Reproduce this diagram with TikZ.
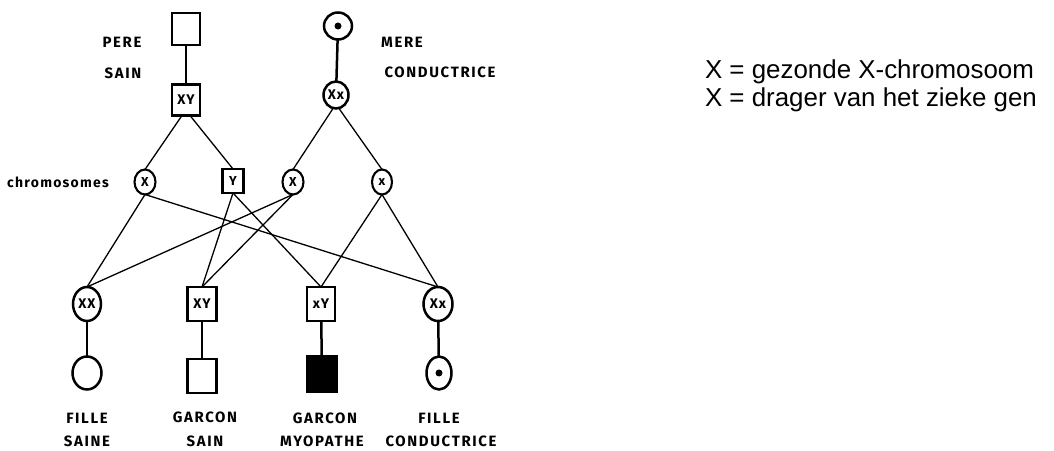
\documentclass[tikz,border=0pt]{standalone}
\usepackage{fontspec}
\usetikzlibrary{shapes.geometric}
\newfontfamily\labf[LetterSpace=11]{Fira Sans}
\newfontfamily\lowf[LetterSpace=9]{Fira Sans}
\newfontfamily\genf[LetterSpace=6]{Fira Sans}
\newfontfamily\legf{Liberation Sans}
\begin{document}
\begin{tikzpicture}[x=1bp,y=-1bp,
  every node/.style={inner sep=0pt, outer sep=0pt},
  box/.style={draw, line width=2.5bp, rectangle, minimum width=28bp, minimum height=32bp,
    font=\genf\bfseries\fontsize{14}{14}\selectfont},
  ring/.style={draw, line width=2.5bp, ellipse, minimum width=28bp, minimum height=34bp,
    font=\genf\bfseries\fontsize{14}{14}\selectfont},
  cbox/.style={draw, line width=2.1bp, rectangle, minimum width=21bp, minimum height=24bp,
    font=\genf\bfseries\fontsize{13}{13}\selectfont},
  cring/.style={draw, line width=2.1bp, ellipse, minimum width=21bp, minimum height=25bp,
    font=\genf\bfseries\fontsize{13}{13}\selectfont},
  lab/.style={font=\labf\bfseries\fontsize{15}{15}\selectfont},
  leg/.style={anchor=base west, font=\legf\fontsize{26}{26}\selectfont},
  stem/.style={line width=2.5bp},
  link/.style={line width=1.3bp}
]
\useasboundingbox (0,0) rectangle (1054,451);

% parents
\node[box] (pere) at (186,29) {};
\node[ring, minimum width=28bp, minimum height=27bp] (mere) at (338,26) {};
\fill (mere.center) circle[radius=3.5bp];
\node[lab] (lpere) at (122,42) {PERE};
\node[lab] (lsain) at (123,73) {SAIN};
\node[lab] (lmere) at (402,42) {MERE};
\node[lab] (lcond) at (440,72) {CONDUCTRICE};

\node[box, minimum height=31bp] (fxy) at (186,100) {XY};
\node[ring, minimum width=25bp, minimum height=27bp] (mxx) at (336,95) {Xx};

% chromosomes
\node[font=\lowf\bfseries\fontsize{14}{14}\selectfont] (lchr) at (58,182) {chromosomes};
\node[cring] (cX1) at (145,182) {X};
\node[cbox]  (cY)  at (233,181) {Y};
\node[cring] (cX2) at (293,182) {X};
\node[cring, minimum width=20bp] (cx)  at (382,182) {x};

% children genotypes
\node[ring] (dXX) at (87,304) {XX};
\node[box, minimum width=29bp, minimum height=34bp] (sXY) at (202,304) {XY};
\node[box, minimum height=34bp] (sxY) at (321,304) {xY};
\node[ring, minimum width=29bp] (dXx) at (438,304) {Xx};

% children symbols
\node[ring, minimum width=29bp, minimum height=33bp] (c1) at (87,373) {};
\node[box, minimum width=29bp, minimum height=34bp] (s1) at (202,376) {};
\node[box, minimum width=29bp, minimum height=36bp, fill=black] (s2) at (322,374) {};
\node[ring, minimum width=25bp, minimum height=33bp] (c2) at (439,373) {};
\fill (c2.center) circle[radius=3.5bp];

% labels
\node[lab] (l1a) at (87,418) {FILLE};
\node[lab] (l1b) at (87,441) {SAINE};
\node[lab] (l2a) at (205,417) {GARCON};
\node[lab] (l2b) at (205,441) {SAIN};
\node[lab] (l3a) at (325,418) {GARCON};
\node[lab] (l3b) at (322,441) {MYOPATHE};
\node[lab] (l4a) at (439,418) {FILLE};
\node[lab] (l4b) at (441,441) {CONDUCTRICE};

% legend
\node[leg] (leg1) at (705,79) {X = gezonde X-chromosoom};
\node[leg] (leg2) at (705,107) {X = drager van het zieke gen};

% stems
\draw[stem] (pere) -- (fxy);
\draw[stem] (mere) -- (mxx);
\draw[stem] (dXX) -- (c1);
\draw[stem] (sXY) -- (s1);
\draw[stem] (sxY) -- (s2);
\draw[stem] (dXx) -- (c2);

% gametes
\draw[link] ([xshift=-4bp]fxy.south) -- (cX1.north);
\draw[link] ([xshift=4bp]fxy.south) -- (cY.north);
\draw[link] ([xshift=-3bp]mxx.south) -- (cX2.north);
\draw[link] ([xshift=3bp]mxx.south) -- (cx.north);

% fertilisation
\draw[link] (cX1.south) -- (dXX.north);
\draw[link] (cX1.south) -- (dXx.north);
\draw[link] (cY.south) -- (sXY.north);
\draw[link] (cY.south) -- (sxY.north);
\draw[link] (cX2.south) -- (dXX.north);
\draw[link] (cX2.south) -- (sXY.north);
\draw[link] (cx.south) -- (sxY.north);
\draw[link] (cx.south) -- (dXx.north);
\end{tikzpicture}
\end{document}
